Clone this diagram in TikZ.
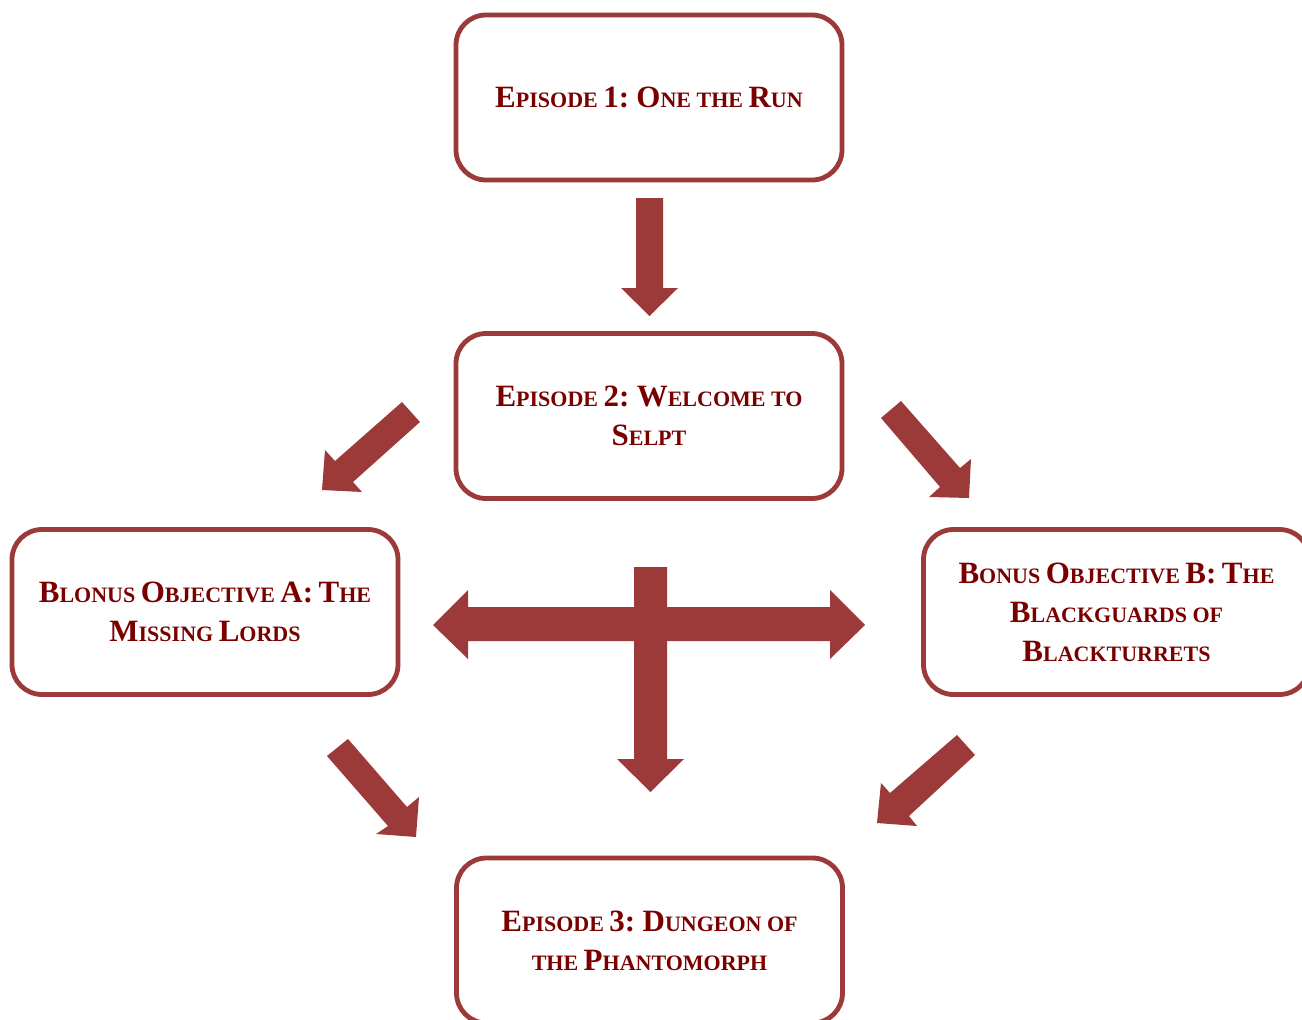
\documentclass[tikz,border=0pt]{standalone}
\usepackage{fontspec}
\setmainfont{Liberation Serif}
\definecolor{boxred}{HTML}{9C3939}
\definecolor{txtred}{HTML}{7A0000}
\newcommand\bigL[1]{{\fontsize{31}{39}\selectfont #1}}
\tikzset{
  epbox/.style={draw=boxred, line width=4.8pt, rounded corners=30pt, fill=white,
    minimum width=386pt, minimum height=165pt, inner sep=0pt, outer sep=0pt,
    align=center, text=txtred, font=\fontsize{22}{39}\selectfont\bfseries},
  blockarrow/.style={fill=boxred, draw=none}
}
\begin{document}
\begin{tikzpicture}[x=1pt,y=-1pt]
\useasboundingbox (0,0) rectangle (1302,1020);
\clip (0,0) rectangle (1302,1020);
\node[epbox] (ep1) at (649,97.5) {\bigL{E}PISODE \bigL{1:} \bigL{O}NE THE \bigL{R}UN};
\node[epbox] (ep2) at (649,416) {\bigL{E}PISODE \bigL{2:} \bigL{W}ELCOME TO\\\bigL{S}ELPT};
\node[epbox] (bonA) at (205,612) {\bigL{B}LONUS \bigL{O}BJECTIVE \bigL{A:} \bigL{T}HE\\\bigL{M}ISSING \bigL{L}ORDS};
\node[epbox] (bonB) at (1116.5,612) {\bigL{B}ONUS \bigL{O}BJECTIVE \bigL{B:} \bigL{T}HE\\\bigL{B}LACKGUARDS OF\\\bigL{B}LACKTURRETS};
\node[epbox] (ep3) at (649.5,940.5) {\bigL{E}PISODE \bigL{3:} \bigL{D}UNGEON OF\\THE \bigL{P}HANTOMORPH};
% ep1 -> ep2
\fill[blockarrow] (636,198) -- (663,198) -- (663,288) -- (678,288) -- (649.5,316) -- (621,288) -- (636,288) -- cycle;
% ep2 -> bonA
\fill[blockarrow] (402,402) -- (335,461) -- (325,450) -- (322,490) -- (362,492) -- (353,482) -- (420,422) -- cycle;
% ep2 -> bonB
\fill[blockarrow] (881,418) -- (901,401) -- (960,468) -- (971,459) -- (969,498) -- (929,497) -- (940,487) -- cycle;
% cross arrow
\fill[blockarrow] (634,567) -- (667,567) -- (667,607) -- (830,607) -- (830,590) -- (865,625) -- (830,659) -- (830,641)
  -- (667,641) -- (667,759) -- (684,759) -- (650.5,792) -- (617,759) -- (634,759) -- (634,641)
  -- (468,641) -- (468,659) -- (433,625) -- (468,590) -- (468,607) -- (634,607) -- cycle;
% bonA -> ep3
\fill[blockarrow] (327,756) -- (348,739) -- (407,807) -- (419,797) -- (416,837) -- (376,834) -- (388,826) -- cycle;
% bonB -> ep3
\fill[blockarrow] (957,735) -- (890,793) -- (881,783) -- (877,823) -- (917,826) -- (909,816) -- (975,755) -- cycle;
\end{tikzpicture}
\end{document}
